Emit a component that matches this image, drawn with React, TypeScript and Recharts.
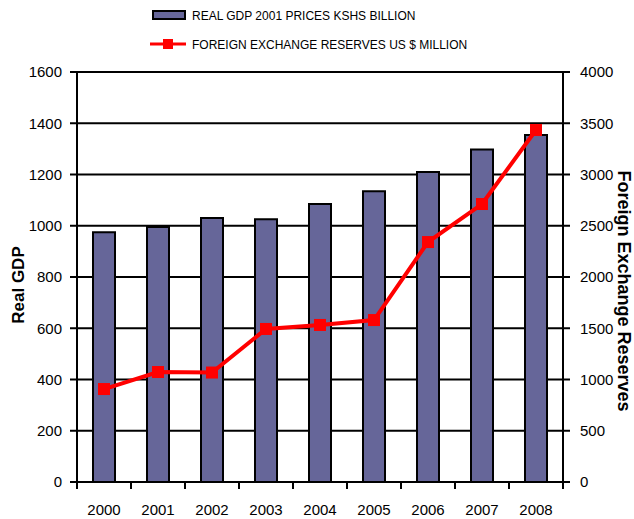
import { ComposedChart, Bar, Line, XAxis, YAxis, CartesianGrid, Label } from 'recharts';

const years = ['2000', '2001', '2002', '2003', '2004', '2005', '2006', '2007', '2008'];
const realGdp = [975, 995, 1030, 1025, 1085, 1135, 1210, 1298, 1354];
const fxReserves = [907, 1073, 1068, 1493, 1532, 1580, 2341, 2712, 3434];
const gdpTicks = [0, 200, 400, 600, 800, 1000, 1200, 1400, 1600];
const fxTicks = [0, 500, 1000, 1500, 2000, 2500, 3000, 3500, 4000];
const gdpName = 'REAL GDP 2001 PRICES KSHS BILLION';
const fxName = 'FOREIGN EXCHANGE RESERVES US $ MILLION';

const data = years.map((year, i) => ({ year, gdp: realGdp[i], fx: fxReserves[i] }));

const W = 634;
const H = 519;
const LEFT_W = 77;
const RIGHT_W = 71;
const HALF_BAND = (W - LEFT_W - RIGHT_W) / years.length / 2;
const sans = '"Liberation Sans", Arial, sans-serif';

const YearTick = ({ x, y, payload, index }: any) => (
  <g>
    <line x1={x - HALF_BAND} y1={y} x2={x - HALF_BAND} y2={y + 7} stroke="#000" strokeWidth={2} />
    {index === years.length - 1 && (
      <line x1={x + HALF_BAND} y1={y} x2={x + HALF_BAND} y2={y + 7} stroke="#000" strokeWidth={2} />
    )}
    <text x={x} y={y + 33} textAnchor="middle" fontSize={15} fontFamily={sans} fill="#000">
      {payload.value}
    </text>
  </g>
);

const SquareDot = ({ cx, cy }: any) => <rect x={cx - 6} y={cy - 6} width={12} height={12} fill="#ff0000" />;

function ChartLegend() {
  return (
    <svg width={W} height={60} style={{ position: 'absolute', left: 0, top: 0 }}>
      <rect x={153} y={11} width={32} height={8} fill="#666699" stroke="#000" strokeWidth={2} />
      <text x={192} y={20} fontSize={12} fontFamily={sans} fill="#000">{gdpName}</text>
      <line x1={150} y1={44} x2={186} y2={44} stroke="#ff0000" strokeWidth={3} />
      <rect x={163} y={39} width={10} height={10} fill="#ff0000" />
      <text x={192} y={49} fontSize={12} fontFamily={sans} fill="#000">{fxName}</text>
    </svg>
  );
}

export default function App() {
  return (
    <div style={{ position: 'absolute', left: 0, top: 0, width: W, height: H, background: '#fff' }}>
      <ComposedChart width={W} height={H} data={data} margin={{ top: 72, right: 0, bottom: 0, left: 0 }}>
        <CartesianGrid yAxisId="left" vertical={false} stroke="#000" strokeWidth={2} />
        <XAxis
          dataKey="year"
          height={37}
          stroke="#000"
          strokeWidth={2}
          tickLine={false}
          tickSize={0}
          tickMargin={0}
          tick={<YearTick />}
          interval={0}
        />
        <YAxis
          yAxisId="left"
          width={LEFT_W}
          domain={[0, 1600]}
          ticks={gdpTicks}
          stroke="#000"
          strokeWidth={2}
          tickSize={7}
          tickMargin={8}
          tick={{ fill: '#000', fontSize: 15, fontFamily: sans }}
        >
          <Label
            content={() => (
              <text
                x={0}
                y={0}
                transform="translate(24,285) rotate(-90)"
                textAnchor="middle"
                fontSize={17}
                fontWeight="bold"
                fontFamily={sans}
                fill="#000"
              >
                Real GDP
              </text>
            )}
          />
        </YAxis>
        <YAxis
          yAxisId="right"
          orientation="right"
          width={RIGHT_W}
          domain={[0, 4000]}
          ticks={fxTicks}
          stroke="#000"
          strokeWidth={2}
          tickSize={7}
          tickMargin={10}
          tick={{ fill: '#000', fontSize: 15, fontFamily: sans }}
        >
          <Label
            content={() => (
              <text
                x={0}
                y={0}
                transform="translate(618,291) rotate(90)"
                textAnchor="middle"
                fontSize={18}
                fontWeight="bold"
                fontFamily={sans}
                fill="#000"
              >
                Foreign Exchange Reserves
              </text>
            )}
          />
        </YAxis>
        <Bar
          yAxisId="left"
          dataKey="gdp"
          name={gdpName}
          fill="#666699"
          stroke="#000"
          strokeWidth={2}
          barSize={22}
          isAnimationActive={false}
        />
        <Line
          yAxisId="right"
          dataKey="fx"
          name={fxName}
          stroke="#ff0000"
          strokeWidth={4}
          dot={<SquareDot />}
          isAnimationActive={false}
        />
      </ComposedChart>
      <ChartLegend />
    </div>
  );
}
